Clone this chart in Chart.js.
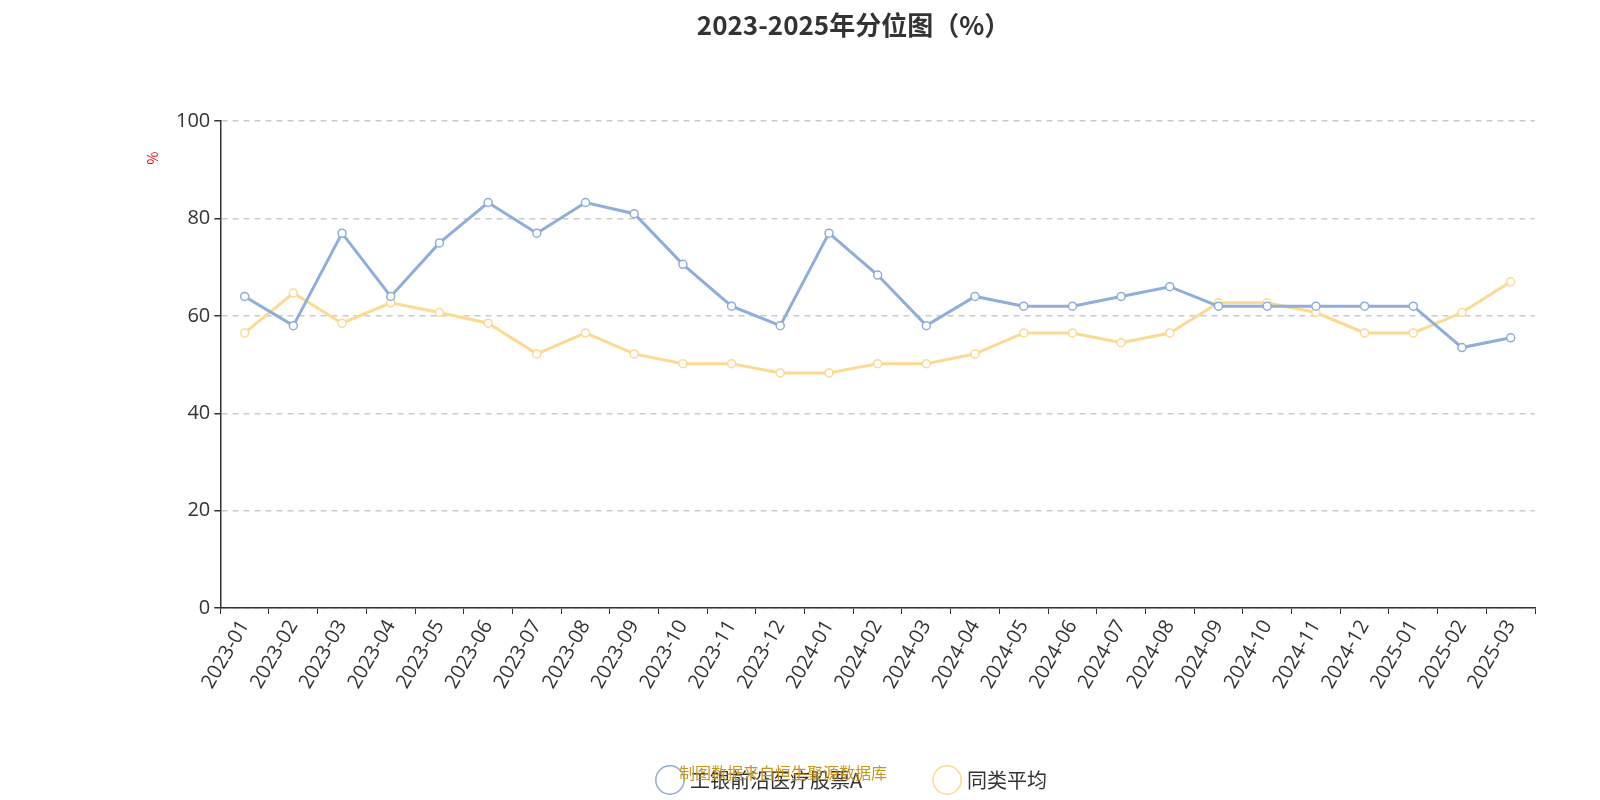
<!DOCTYPE html>
<html>
<head>
<meta charset="utf-8">
<script src="https://cdn.jsdelivr.net/npm/chart.js@4/dist/chart.umd.min.js"></script>
<style>
  body { margin: 0; background: #fff; }
  #wrap { width: 1600px; height: 800px; }
</style>
</head>
<body>
<div id="wrap"><canvas id="grafico" width="1600" height="800"></canvas></div>
<script>
// Datos
const meses = ['2023-01','2023-02','2023-03','2023-04','2023-05','2023-06','2023-07','2023-08','2023-09','2023-10','2023-11','2023-12',
  '2024-01','2024-02','2024-03','2024-04','2024-05','2024-06','2024-07','2024-08','2024-09','2024-10','2024-11','2024-12',
  '2025-01','2025-02','2025-03'];
const fondo = [64, 58, 77, 64, 75, 83.3, 77, 83.3, 81, 70.6, 62, 58, 77, 68.4, 58, 64, 62, 62, 64, 66, 62, 62, 62, 62, 62, 53.5, 55.5];
const promedio = [56.5, 64.7, 58.5, 62.7, 60.7, 58.5, 52.2, 56.5, 52.2, 50.2, 50.2, 48.3, 48.3, 50.2, 50.2, 52.2, 56.5, 56.5, 54.5, 56.5, 62.7, 62.7, 60.7, 56.5, 56.5, 60.7, 67];
const nombres = ['工银前沿医疗股票A', '同类平均'];

const fuente = '"Noto Sans CJK SC", "Noto Sans", sans-serif';
const fuenteEje = '"Open Sans", "Noto Sans", sans-serif';

// Texto extra: unidad del eje y fuente de datos
const extras = {
    id: 'extras',
    afterDraw(chart) {
        const c = chart.ctx;
        c.save();
        c.fillStyle = 'red';
        c.font = '14px ' + fuente;
        c.translate(153, 158);
        c.rotate(-Math.PI / 2);
        c.textAlign = 'center';
        c.textBaseline = 'middle';
        c.fillText('%', 0, 0);
        c.restore();
        c.save();
        c.fillStyle = '#c8961e';
        c.font = '16px ' + fuente;
        c.textAlign = 'center';
        c.textBaseline = 'middle';
        c.fillText('制图数据来自恒生聚源数据库', 783, 773);
        c.restore();
    }
};

new Chart(document.getElementById('grafico'), {
    type: 'line',
    data: {
        labels: meses,
        datasets: [{
            label: nombres[0],
            data: fondo,
            borderColor: '#8eaedb',
            backgroundColor: '#fff',
            pointBorderColor: '#8eaedb',
            borderWidth: 3,
            pointRadius: 4,
            pointBorderWidth: 1.5,
            tension: 0
        }, {
            label: nombres[1],
            data: promedio,
            borderColor: '#fdd992',
            backgroundColor: '#fff',
            pointBorderColor: '#fdd992',
            borderWidth: 3,
            pointRadius: 4,
            pointBorderWidth: 1.5,
            tension: 0
        }]
    },
    options: {
        responsive: false,
        animation: false,
        layout: { padding: { left: 172, right: 65, top: 10, bottom: 0 } },
        plugins: {
            title: {
                display: true,
                text: '2023-2025年分位图（%）',
                color: '#333',
                font: { size: 26, weight: 'bold', family: fuente },
                padding: { top: 0, bottom: 80 }
            },
            legend: {
                position: 'bottom',
                labels: {
                    usePointStyle: true,
                    pointStyle: 'circle',
                    boxWidth: 20,
                    color: '#333',
                    font: { size: 20, family: fuente },
                    padding: 75
                }
            },
            tooltip: { enabled: false }
        },
        scales: {
            x: {
                offset: true,
                grid: { display: true, drawOnChartArea: false, color: '#333', tickLength: 6, offset: true },
                border: { color: '#333', width: 1.5 },
                ticks: { color: '#333', font: { size: 20, family: fuenteEje }, maxRotation: 60, minRotation: 60, autoSkip: false, padding: 2 }
            },
            y: {
                min: 0, max: 100,
                ticks: { stepSize: 20, color: '#333', font: { size: 20, family: fuenteEje }, padding: 4 },
                grid: { color: '#ccc', lineWidth: 1.5, tickLength: 6, tickColor: '#333' },
                border: { color: '#333', width: 1.5, dash: [6, 5] }
            }
        }
    },
    plugins: [extras]
});
</script>
</body>
</html>
